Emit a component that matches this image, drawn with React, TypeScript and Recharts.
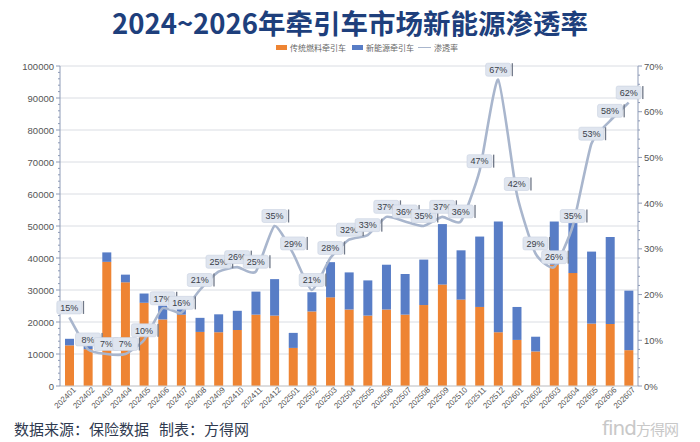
import React from 'react';
import {
  ComposedChart,
  Bar,
  Line,
  XAxis,
  YAxis,
  CartesianGrid,
} from 'recharts';

const months = [
  '202401', '202402', '202403', '202404', '202405', '202406', '202407', '202408',
  '202409', '202410', '202411', '202412', '202501', '202502', '202503', '202504',
  '202505', '202506', '202507', '202508', '202509', '202510', '202511', '202512',
  '202601', '202602', '202603', '202604', '202605', '202606', '202607',
];

const fuelTractors = [
  12700, 11500, 38800, 32400, 26000, 20800, 22300, 16900,
  16800, 17500, 22300, 22000, 11900, 23300, 27700, 23900,
  22000, 23900, 22300, 25300, 31700, 27000, 24700, 16800,
  14400, 10800, 37900, 35300, 19500, 19400, 11200,
];

const nevTractors = [
  2050, 1000, 2950, 2400, 2900, 4300, 2200, 4400,
  5600, 6000, 7200, 11400, 4700, 6000, 11000, 11600,
  11000, 14000, 12700, 14200, 18900, 15400, 22000, 34600,
  10300, 4600, 13500, 15600, 22500, 27200, 18600,
];

const penetration = [
  15, 8, 7, 7, 10, 17, 16, 21, 25, 26, 25, 35, 29, 21, 28, 32,
  33, 37, 36, 35, 37, 36, 47, 67, 42, 29, 26, 35, 53, 58, 62,
];

const leftTicks: number[] = [];
for (let v = 0; v <= 100000; v += 2000) leftTicks.push(v);
const rightTicks: number[] = [];
for (let v = 0; v <= 70; v += 2) rightTicks.push(v);
const gridValues = [0, 10000, 20000, 30000, 40000, 50000, 60000, 70000, 80000, 90000, 100000];

const data = months.map((m, i) => ({
  month: m,
  fuel: fuelTractors[i],
  nev: nevTractors[i],
  pen: penetration[i],
}));

const ORANGE = '#EE8433';
const BLUE = '#587DC6';
const LINE = '#A9B6CD';
const AXIS = '#8E9BB7';
const FONT = '"Liberation Sans", Arial, sans-serif';
const CJK = '"Noto Sans CJK SC", sans-serif';

// mildly smoothed line (spreadsheet-like smoothing, low tension)
const smoothCurve: any = (context: any) => {
  let pts: number[][] = [];
  const k = 11;
  return {
    areaStart() {},
    areaEnd() {},
    lineStart() {
      pts = [];
    },
    point(x: number, y: number) {
      pts.push([+x, +y]);
    },
    lineEnd() {
      if (!pts.length) return;
      context.moveTo(pts[0][0], pts[0][1]);
      for (let i = 0; i < pts.length - 1; i++) {
        const p0 = pts[i - 1] || pts[i];
        const p1 = pts[i];
        const p2 = pts[i + 1];
        const p3 = pts[i + 2] || p2;
        const c1x = p1[0] + (p2[0] - p0[0]) / k;
        const c1y = p1[1] + (p2[1] - p0[1]) / k;
        const c2x = p2[0] - (p3[0] - p1[0]) / k;
        const c2y = p2[1] - (p3[1] - p1[1]) / k;
        context.bezierCurveTo(c1x, c1y, c2x, c2y, p2[0], p2[1]);
      }
    },
  };
};

const LeftTick = (props: any) => {
  const { x, y, payload } = props;
  const major = payload.value % 10000 === 0;
  return (
    <g>
      <line x1={x} x2={x - (major ? 4 : 2)} y1={y} y2={y} stroke={AXIS} strokeWidth={1} />
      {major && (
        <text x={x - 6} y={y} dy={3.5} textAnchor="end" fontSize={9.5} fill="#555" fontFamily={FONT}>
          {payload.value}
        </text>
      )}
    </g>
  );
};

const RightTick = (props: any) => {
  const { x, y, payload } = props;
  const major = payload.value % 10 === 0;
  return (
    <g>
      <line x1={x} x2={x + (major ? 4 : 2)} y1={y} y2={y} stroke={AXIS} strokeWidth={1} />
      {major && (
        <text x={x + 6} y={y} dy={3.5} textAnchor="start" fontSize={9.5} fill="#555" fontFamily={FONT}>
          {payload.value + '%'}
        </text>
      )}
    </g>
  );
};

const XTick = (props: any) => {
  const { x, y, payload } = props;
  return (
    <g transform={`translate(${x},${y})`}>
      <text
        x={0}
        y={0}
        dx={2}
        dy={8}
        textAnchor="end"
        transform="rotate(-45)"
        fontSize={8}
        fill="#555"
        fontFamily={FONT}
      >
        {payload.value}
      </text>
    </g>
  );
};

const PenLabel = (props: any) => {
  const { x, y, value } = props;
  if (x == null || y == null) return null;
  const w = 25;
  const h = 13;
  const cx = x;
  const cy = y - 10;
  return (
    <g>
      <rect x={cx - w / 2} y={cy - h / 2} width={w} height={h} rx={2} fill="#DFE5EF" stroke="#C9D2E1" strokeWidth={0.6} />
      <rect x={cx + w / 2 + 1} y={cy - h / 2} width={1.3} height={h} fill="#707888" />
      <text x={cx} y={cy} dy={3.3} textAnchor="middle" fontSize={9} fill="#3A3F4A" fontFamily={FONT}>
        {value + '%'}
      </text>
    </g>
  );
};

const Legend = () => (
  <div
    style={{
      position: 'absolute',
      left: 276,
      top: 42,
      display: 'flex',
      alignItems: 'center',
      fontFamily: CJK,
      fontSize: 8,
      lineHeight: '11px',
      color: '#666',
      whiteSpace: 'nowrap',
    }}
  >
    <span style={{ display: 'inline-block', width: 11, height: 5, background: ORANGE, marginRight: 3 }} />
    <span style={{ marginRight: 6 }}>传统燃料牵引车</span>
    <span style={{ display: 'inline-block', width: 11, height: 5, background: BLUE, marginRight: 3 }} />
    <span style={{ marginRight: 4 }}>新能源牵引车</span>
    <span style={{ display: 'inline-block', width: 13, height: 1.5, background: LINE, marginRight: 3 }} />
    <span>渗透率</span>
  </div>
);

export default function App() {
  return (
    <div
      style={{
        position: 'absolute',
        left: 0,
        top: 0,
        width: 700,
        height: 442,
        background: '#fff',
        overflow: 'hidden',
      }}
    >
      <div
        style={{
          position: 'absolute',
          left: 0,
          top: 6,
          width: 700,
          textAlign: 'center',
          fontFamily: CJK,
          fontWeight: 600,
          fontSize: 27.5,
          color: '#1E3F7C',
          lineHeight: '32px',
          whiteSpace: 'nowrap',
        }}
      >
        2024~2026年牵引车市场新能源渗透率
      </div>
      <Legend />
      <div style={{ position: 'absolute', left: 0, top: 0 }}>
        <ComposedChart
          width={700}
          height={442}
          data={data}
          margin={{ top: 66, right: 0, bottom: 0, left: 0 }}
          barCategoryGap="50%"
        >
          <CartesianGrid
            yAxisId="left"
            vertical={false}
            stroke="#DADDE3"
            strokeWidth={1}
            horizontalValues={gridValues}
          />
          <XAxis
            dataKey="month"
            interval={0}
            height={56}
            tickSize={0}
            tickMargin={0}
            tickLine={false}
            axisLine={{ stroke: '#CCCCCC' }}
            tick={<XTick />}
          />
          <YAxis
            yAxisId="left"
            orientation="left"
            width={60}
            domain={[0, 100000]}
            ticks={leftTicks}
            interval={0}
            tickSize={0}
            tickMargin={0}
            tickLine={false}
            axisLine={{ stroke: AXIS }}
            tick={<LeftTick />}
          />
          <YAxis
            yAxisId="right"
            orientation="right"
            width={62}
            domain={[0, 70]}
            ticks={rightTicks}
            interval={0}
            tickSize={0}
            tickMargin={0}
            tickLine={false}
            axisLine={{ stroke: AXIS }}
            tick={<RightTick />}
          />
          <Bar yAxisId="left" dataKey="fuel" stackId="a" fill={ORANGE} barSize={9} isAnimationActive={false} />
          <Bar yAxisId="left" dataKey="nev" stackId="a" fill={BLUE} barSize={9} isAnimationActive={false} />
          <Line
            yAxisId="right"
            dataKey="pen"
            type={smoothCurve}
            stroke={LINE}
            strokeWidth={2.6}
            dot={false}
            isAnimationActive={false}
            label={<PenLabel />}
          />
        </ComposedChart>
      </div>
      <div
        style={{
          position: 'absolute',
          left: 14,
          top: 419,
          fontFamily: CJK,
          fontSize: 15,
          color: '#2F3A4F',
          whiteSpace: 'pre',
          lineHeight: '20px',
        }}
      >
        {'数据来源：保险数据   制表：方得网'}
      </div>
      <div
        style={{
          position: 'absolute',
          left: 602,
          top: 416,
          fontFamily: '"DejaVu Sans", sans-serif',
          fontSize: 20,
          color: '#C8C8C8',
          whiteSpace: 'nowrap',
          letterSpacing: -1,
          lineHeight: '24px',
        }}
      >
        find<span style={{ fontFamily: CJK, fontSize: 15 }}>方得网</span>
      </div>
    </div>
  );
}
